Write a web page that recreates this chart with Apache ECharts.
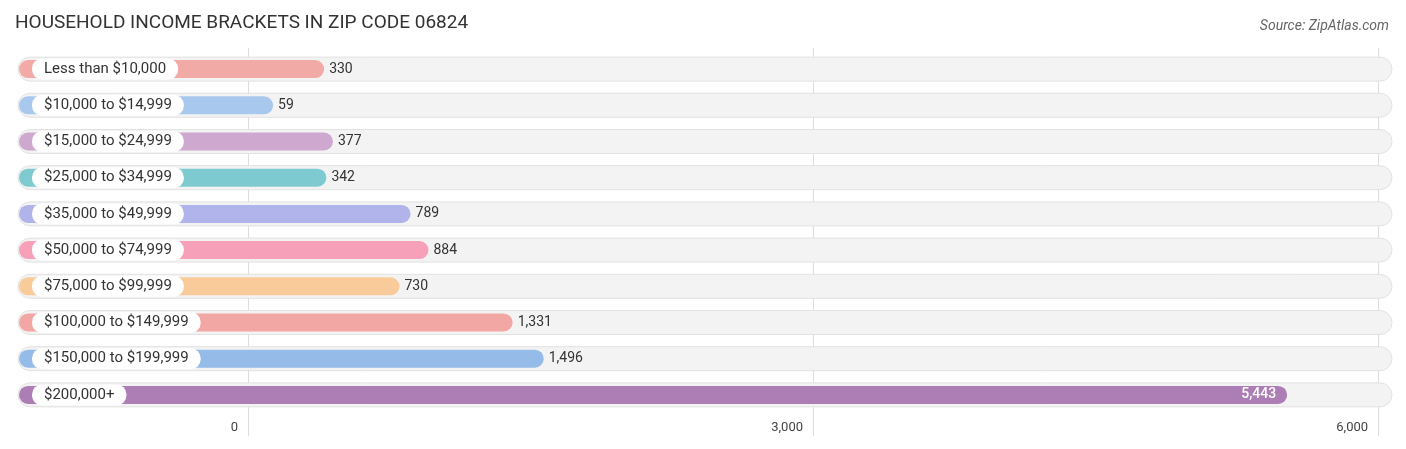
<!DOCTYPE html>
<html><head><meta charset="utf-8">
<script src="https://cdn.jsdelivr.net/npm/echarts@6/dist/echarts.min.js"></script>
<style>html,body{margin:0;padding:0;background:#fff}#c{width:1406px;height:449px}</style>
</head><body><div id="c"></div>
<script>
const categories = ["Less than $10,000","$10,000 to $14,999","$15,000 to $24,999","$25,000 to $34,999","$35,000 to $49,999","$50,000 to $74,999","$75,000 to $99,999","$100,000 to $149,999","$150,000 to $199,999","$200,000+"];
const values = [330,59,377,342,789,884,730,1331,1496,5443];
const colors = ["#f2aaa7","#a9c8ee","#cfa8d0","#7dcbd1","#b0b4ea","#f7a0b9","#f9cb9a","#f2a7a4","#95bbe8","#ad7db5"];
const tickValues = [0,3000,6000];
const XMIN = -1221, XMAX = 6074;

const chart = echarts.init(document.getElementById('c'));
const fmt = v => v.toLocaleString('en-US');
chart.setOption({
  animation:false,
  title:[
    {text:"HOUSEHOLD INCOME BRACKETS IN ZIP CODE 06824",left:10,top:9,textStyle:{fontFamily:"Roboto",fontSize:19,fontWeight:'normal',color:'#333'}},
    {text:"Source: ZipAtlas.com",right:12,top:14,textStyle:{fontFamily:"Roboto",fontSize:14,fontStyle:'italic',fontWeight:'normal',color:'#666'}}
  ],
  grid:{left:18,right:14,top:51,bottom:36},
  xAxis:{type:'value',min:XMIN,max:XMAX,splitLine:{show:false},axisLine:{show:false},axisTick:{show:false},
    axisLabel:{customValues:tickValues,formatter:v=>fmt(v),fontFamily:'Roboto',fontSize:13,color:'#444',align:'right',margin:8,padding:[0,10,0,0]}},
  yAxis:{type:'category',data:categories,inverse:true,show:false},
  series:[{
    type:'custom',
    data:values.map((v,i)=>[v,i]),
    renderItem:function(params,api){
      const v=api.value(0), i=api.value(1);
      const left=api.coord([XMIN,i]), right=api.coord([XMAX,i]), end=api.coord([v,i]);
      const cy=left[1];
      const x0=left[0], xe=end[0]+13;
      const last = i===values.length-1;
      const ch=[
        {type:'rect',shape:{x:x0,y:cy-12,width:right[0]-x0,height:24,r:12},style:{fill:'#f3f3f3',stroke:'#e2e2e2',lineWidth:1}},
        {type:'rect',shape:{x:x0+1,y:cy-9,width:xe-x0,height:18,r:9},style:{fill:colors[i]}},
        {type:'text',x:x0+14,y:cy,style:{text:categories[i],fill:'#333',font:'15px Roboto',verticalAlign:'middle',align:'left',
          backgroundColor:'#fff',borderRadius:10,padding:[3,12,3,12]}},
        last?{type:'text',x:xe-10,y:cy,style:{text:fmt(v),fill:'#fff',font:'500 14px Roboto',align:'right',verticalAlign:'middle'}}
            :{type:'text',x:xe+6,y:cy,style:{text:fmt(v),fill:'#333',font:'14px Roboto',align:'left',verticalAlign:'middle'}}
      ];
      return {type:'group',children:ch};
    },
    z:2
  },{
    type:'bar',data:[],silent:true,
    markLine:{symbol:'none',silent:true,label:{show:false},lineStyle:{color:'#dddddd',type:'solid',width:1},
      data:tickValues.map(t=>[{coord:[t,0],y:48},{coord:[t,0],y:436}]),z:1},
    z:1
  }]
});
</script></body></html>
